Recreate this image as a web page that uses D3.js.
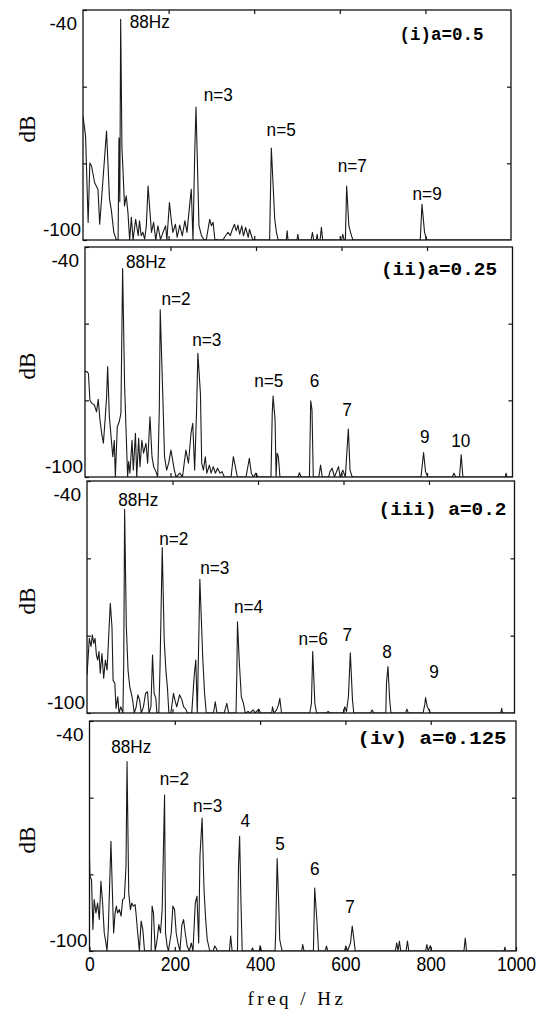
<!DOCTYPE html>
<html><head><meta charset="utf-8">
<script src="https://cdn.jsdelivr.net/npm/d3@7"></script>
<style>body{margin:0;background:#fff}svg{display:block}</style>
</head><body>
<svg id="chart" width="550" height="1019"></svg>
<script>
// ---------- data ----------
const freqDomain = [0, 1000];
const dbDomain = [-100, -40];
const xTickValues = [0, 200, 400, 600, 800, 1000];
const yTickValues = [-100, -80, -60, -40];
const yLabelledTicks = [-100, -40];
const xAxisTitle = "freq / Hz";
const yAxisTitle = "dB";
const panelTitles = ["(i)a=0.5", "(ii)a=0.25", "(iii) a=0.2", "(iv) a=0.125"];

const spectrumA = [[0,-67.7],[6,-72.9],[12,-95.4],[16,-79.9],[20,-80.7],[27,-85],[35,-86.8],[39,-95.9],[55,-71.6],[62,-89.4],[66,-92],[72,-98],[78,-100],[82,-100],[84,-73.4],[86,-90],[88,-42.4],[91,-76],[93,-80.7],[97,-91.1],[101,-88.5],[105,-92.8],[109,-100],[113,-94.1],[117,-100],[123,-94.6],[129,-98.9],[132,-95],[136,-98.9],[140,-98],[144,-99.8],[148,-96.3],[152,-85.9],[156,-92],[160,-98],[165,-95.4],[170,-100],[175,-96.3],[181,-99.8],[187,-98],[193,-96.3],[196,-100],[202,-90.2],[206,-94.6],[210,-98],[216,-95.9],[220,-99.3],[226,-96.1],[232,-98.9],[238,-95],[243,-98],[249,-91.1],[253,-86.8],[257,-100],[261,-77.3],[264,-65.3],[271,-96.3],[277,-98.9],[282,-99.8],[288,-100],[296,-94.6],[300,-96.3],[304,-95.4],[308,-99.8],[315,-100],[327,-100],[333,-98.9],[339,-98],[344,-98.9],[349,-97.2],[354,-95.9],[358,-97.6],[362,-96.1],[366,-98.5],[371,-96.3],[375,-98.9],[380,-96.7],[386,-99.3],[389,-97.2],[396,-99.8],[405,-100],[436,-100],[440,-76],[448,-94.6],[452,-98],[456,-100],[475,-100],[477,-97.6],[479,-100],[500,-100],[502,-98.5],[504,-100],[533,-100],[536,-98],[539,-100],[545,-100],[547,-98.5],[549,-100],[554,-100],[557,-96.7],[560,-100],[604,-100],[607,-98.5],[610,-100],[613,-100],[616,-85.9],[621,-96.1],[625,-98],[630,-99.8],[633,-100],[788,-100],[792,-90.7],[798,-98],[803,-99.8],[806,-100],[1000,-100]];

const spectrumB = [[0,-72.5],[4.5,-72.5],[8,-73],[11.5,-79.9],[16,-80.8],[22,-81.2],[27,-83],[31,-79.7],[35,-85.1],[39,-88.6],[43,-91.2],[47,-85.1],[50.5,-79],[53,-71.2],[57,-84.3],[61,-89.5],[65,-94.7],[68.5,-90.4],[71,-100],[75.5,-86.9],[80,-85.6],[84,-83.4],[88,-45.6],[92.7,-76.4],[96,-87.7],[99.7,-100],[102,-96],[105,-99],[110,-90.4],[113,-98.2],[118,-88.6],[121,-100],[125.5,-89.9],[128.6,-97.3],[133,-90.4],[137,-93.8],[142.6,-91.2],[146.5,-96.4],[152,-84.3],[156.7,-94.7],[160.6,-97.3],[166,-98.6],[170,-100],[173.8,-82.5],[176,-56.4],[183,-82.5],[186,-94.7],[191,-98.2],[195.7,-96.4],[201,-93],[205,-95.6],[209,-98.2],[213,-100],[222,-99],[228,-100],[236,-93],[242,-96.4],[248,-88.6],[252,-86],[256.5,-98.2],[261,-82.5],[264,-67.7],[270,-78.2],[273,-96.4],[277,-98.2],[281.5,-94.7],[285,-99],[291,-96.9],[295,-99],[300,-97.3],[305,-99],[310,-97.7],[316,-99],[320.5,-98.6],[326,-100],[341.6,-100],[347,-94.7],[351.7,-97.3],[356.4,-100],[376.7,-100],[384.5,-95.1],[389,-99],[394,-100],[400,-99],[404,-100],[435,-100],[438,-83.4],[440,-78.9],[444.6,-85.1],[447,-100],[449.3,-93.8],[452.4,-94.7],[456,-100],[498,-100],[501.6,-98.9],[505.5,-100],[525,-100],[528,-80.1],[531,-82.5],[534,-100],[547,-100],[551,-96.9],[555,-100],[570,-100],[573,-98.6],[578,-97.7],[583.5,-100],[593,-97.3],[597,-100],[603,-98.2],[609,-100],[616,-87.5],[620,-98.2],[625,-100],[786,-100],[792,-93.6],[796.5,-98.6],[802,-100],[859,-100],[863,-99],[867,-100],[876,-100],[880,-94.2],[884,-100],[983,-100],[985,-99],[987,-100],[1000,-100]];

const spectrumC = [[0,-90.2],[5.5,-80.7],[9.4,-82.8],[12.5,-79.8],[15.7,-82],[18.8,-80.7],[22,-85],[25,-86.3],[28,-84.1],[31,-89.7],[35,-84.6],[39,-91],[43,-86.3],[47,-88.9],[50.7,-80.3],[54.5,-71.6],[58.4,-77.7],[61,-91.5],[65,-92.3],[68,-98.8],[72,-95.8],[75,-100],[79,-98.4],[84,-100],[86,-86.3],[88,-47.3],[92,-77.7],[96,-88.9],[100,-93.2],[103.6,-94.9],[106.7,-96.6],[110.6,-100],[115,-98.4],[119,-95.3],[123,-96.6],[127,-100],[132,-98.4],[137,-94.9],[141.7,-94.5],[145,-100],[149.5,-98.4],[153.3,-85],[157,-94.9],[161,-96.2],[163.5,-100],[168,-100],[171,-87.2],[176,-57.2],[180.6,-81.1],[185,-89.7],[188,-93.2],[191.5,-100],[196,-100],[202.4,-94.9],[205.5,-96.6],[210,-98.4],[216.4,-95.3],[222,-96.6],[226,-98.4],[230,-98.8],[235,-100],[245,-100],[250.6,-90.6],[254.5,-86.3],[258,-100],[262,-77.7],[264,-65.4],[271,-86.3],[275,-94.9],[279,-100],[296,-100],[300,-97.1],[304,-100],[321,-100],[327,-97.5],[331.5,-100],[348.6,-100],[350.5,-89.7],[352,-76.4],[356,-86.3],[361,-95.8],[366,-97.5],[370,-100],[377,-99.6],[381,-100],[389,-99.2],[393,-100],[402,-99],[406,-100],[432,-100],[434,-98.4],[437,-100],[443.5,-99.2],[448,-97.9],[451,-96.2],[455,-100],[521,-100],[525,-97.5],[528,-84.1],[533,-97.5],[537,-100],[560,-100],[564,-99.6],[568,-100],[599,-100],[603,-98.4],[607,-99.6],[611.5,-95.8],[616,-84.4],[621,-96.6],[624,-100],[663,-100],[667,-99.2],[671,-100],[699,-100],[700.5,-92.3],[704,-88],[708,-96.6],[711,-100],[745,-100],[748.4,-99],[751.5,-100],[786,-100],[790,-97.9],[792,-96],[796,-98.4],[800,-99.2],[803,-100],[968,-100],[970,-98.8],[972,-100],[1000,-100]];

const spectrumD = [[0,-75.7],[1,-80.5],[4.8,-81.4],[8,-94.4],[11,-86.6],[15,-90.1],[19,-87.5],[23,-91.8],[26.8,-81.8],[30.7,-87.5],[34.6,-95.3],[38.6,-97.9],[41,-100],[44,-94.4],[47,-83.6],[50.3,-71.4],[53.5,-84],[56.6,-95.3],[60,-90.1],[63,-88.3],[66,-90.1],[70,-89.2],[74,-90.9],[77.8,-86.6],[81.7,-86.2],[85.6,-77.9],[88,-50.6],[92,-84.9],[96,-89.2],[99,-87.5],[103,-88.3],[107,-87.9],[109,-90.1],[113,-95.3],[117,-100],[121,-92.2],[125,-94.4],[129,-100],[144.5,-100],[146.8,-88.3],[150,-90.1],[154,-100],[158.6,-97],[162.5,-93.1],[166.5,-95.3],[170.4,-89.2],[176,-59.3],[178.2,-95.3],[182,-98.7],[185,-100],[191.6,-95.3],[195.5,-88.3],[199.4,-89.2],[203.3,-95.3],[207.3,-97.9],[212,-100],[216.7,-93.1],[220.6,-91.8],[224.5,-95.3],[229,-98.7],[234,-100],[238.6,-97.9],[242.6,-100],[248,-87.5],[252,-85.7],[256,-97.9],[259,-75.3],[264,-65.3],[268.5,-84],[272.4,-91.8],[276,-97],[282,-100],[290,-100],[293.6,-98.7],[296.7,-99.2],[300,-100],[328,-100],[331,-96.1],[334.4,-100],[347,-100],[349.3,-77.9],[352,-70.1],[355,-86.6],[358,-100],[380,-100],[382,-99.2],[385,-100],[398,-100],[400,-98.6],[403,-100],[435,-100],[436.5,-95.3],[440,-75.9],[443.4,-86.6],[446,-97],[449,-98.7],[452,-100],[497.5,-100],[500,-98.3],[503,-100],[525,-100],[528,-83.6],[533,-91.8],[537,-100],[552.5,-100],[555.6,-98.7],[558.7,-100],[598,-100],[601,-98.7],[605,-100],[612,-97.9],[616,-93.5],[620,-97],[623,-100],[717,-100],[720.4,-97.9],[723.5,-100],[726.6,-97.4],[729.8,-100],[742.3,-100],[745.5,-97.4],[748.6,-100],[788,-100],[791,-98.3],[794,-100],[799,-98.6],[802,-100],[878,-100],[881,-96.6],[884,-100],[972,-100],[974,-99],[976,-100],[1000,-100]];

// peak annotations: [text, freq, dB] (anchor in data space)
const labelsA = [["88Hz",156,-43.0],["n=3",316,-62.1],["n=5",463,-71.2],["n=7",629,-80.5],["n=9",804,-87.7]];
const labelsB = [["88Hz",143,-43.8],["n=2",213,-53.4],["n=3",285,-64.1],["n=5",430,-74.7],["6",537,-74.9],["7",613,-82.4],["9",795,-89.3],["10",879,-90.4]];
const labelsC = [["88Hz",120,-44.7],["n=2",203,-54.7],["n=3",299,-62.2],["n=4",378,-72.3],["n=6",529,-80.7],["7",609,-79.7],["8",702,-84.1],["9",812,-89.3]];
const labelsD = [["88Hz",98,-46.5],["n=2",199,-54.9],["n=3",277,-61.9],["4",365,-65.8],["5",447,-71.8],["6",528,-78.5],["7",611,-88.3]];

const spectra = [spectrumA, spectrumB, spectrumC, spectrumD];
const labels = [labelsA, labelsB, labelsC, labelsD];

// ---------- layout (pixels) ----------
const layout = [
  {x0:83,   x1:511,   y0:10,  y1:240, tr:27.5, ty:23, tl:84},
  {x0:85,   x1:512.5, y0:247, y1:477, tr:15.5, ty:21, tl:116},
  {x0:87,   x1:514.5, y0:481, y1:713, tr:8,    ty:27, tl:128},
  {x0:89.5, x1:516,   y0:721, y1:951, tr:9.5,  ty:16, tl:149}
];

const svg = d3.select("#chart");
svg.append("rect").attr("width",550).attr("height",1019).attr("fill","#fff");

layout.forEach((L, i) => {
  const x = d3.scaleLinear().domain(freqDomain).range([L.x0, L.x1]);
  const y = d3.scaleLinear().domain(dbDomain).range([L.y1, L.y0]);
  const g = svg.append("g");

  const clipId = "clip" + i;
  svg.append("clipPath").attr("id", clipId).append("rect")
    .attr("x", L.x0).attr("y", L.y0).attr("width", L.x1 - L.x0).attr("height", L.y1 - L.y0);

  const line = d3.line().x(d => x(d[0])).y(d => y(Math.max(dbDomain[0], d[1])));
  g.append("path").datum(spectra[i]).attr("d", line)
    .attr("fill", "none").attr("stroke", "#1a1a1a").attr("stroke-width", 1.1)
    .attr("stroke-linejoin", "round").attr("clip-path", `url(#${clipId})`);

  const inner = xTickValues.filter(v => v > freqDomain[0] && v < freqDomain[1]);
  const innerY = yTickValues.filter(v => v > dbDomain[0] && v < dbDomain[1]);
  const styleAxis = a => { a.select(".domain").remove(); a.selectAll("line").attr("stroke","#111").attr("stroke-width",1.2); };
  g.append("g").attr("transform", `translate(0,${L.y0})`)
    .call(d3.axisTop(x).tickValues(inner).tickSize(-4).tickFormat("")).call(styleAxis);
  g.append("g").attr("transform", `translate(${L.x1},0)`)
    .call(d3.axisRight(y).tickValues(innerY).tickSize(-4).tickFormat("")).call(styleAxis);

  const last = i === layout.length - 1;
  const bottom = g.append("g").attr("transform", `translate(0,${L.y1})`)
    .call(d3.axisBottom(x).tickValues(last ? xTickValues : inner).tickSize(-4).tickPadding(6)
      .tickFormat(last ? d3.format("d") : ""))
    .call(styleAxis);
  bottom.selectAll("text").attr("font-family", "'Liberation Sans', Arial, sans-serif")
    .attr("font-size", 20).attr("fill", "#000").attr("transform", "scale(0.88,1)");

  const left = g.append("g").attr("transform", `translate(${L.x0},0)`)
    .call(d3.axisLeft(y).tickValues(yTickValues).tickSize(-4)
      .tickFormat(d => yLabelledTicks.includes(d) ? String(d) : ""))
    .call(styleAxis);
  left.selectAll("text").attr("font-family", "'Liberation Sans', Arial, sans-serif")
    .attr("font-size", 19).attr("fill", "#000")
    .attr("x", d => d === dbDomain[1] ? -6 : -2)
    .attr("dy", d => d === dbDomain[1] ? "1.0em" : "-0.22em");

  g.append("rect").attr("x", L.x0).attr("y", L.y0).attr("width", L.x1 - L.x0).attr("height", L.y1 - L.y0)
    .attr("fill", "none").attr("stroke", "#111").attr("stroke-width", 1.3);

  g.selectAll("text.pk").data(labels[i]).join("text").attr("class","pk")
    .attr("transform", d => `translate(${x(d[1])},${y(d[2])}) scale(0.93,1)`)
    .attr("text-anchor", "middle").attr("dy", "0.36em")
    .attr("font-family", "'Liberation Sans', Arial, sans-serif").attr("font-size", 18.5)
    .attr("fill", "#000").text(d => d[0]);

  g.append("text").attr("x", L.x1 - L.tr - L.tl).attr("y", L.y0 + L.ty).attr("dy", "0.36em")
    .attr("font-family", "'Liberation Mono', 'DejaVu Sans Mono', monospace").attr("font-weight", "bold")
    .attr("font-size", 19).attr("textLength", L.tl).attr("lengthAdjust", "spacingAndGlyphs")
    .attr("fill", "#000").text(panelTitles[i]);

  g.append("text").attr("transform", `translate(27,${(L.y0 + L.y1) / 2 + 4}) rotate(-90)`)
    .attr("text-anchor", "middle").attr("dy", "0.35em")
    .attr("font-family", "'Liberation Serif', 'Times New Roman', serif").attr("font-size", 23)
    .attr("fill", "#000").text(yAxisTitle);
});

svg.append("text").attr("x", 297).attr("y", 1005).attr("text-anchor", "middle")
  .attr("font-family", "'Liberation Serif', 'Times New Roman', serif").attr("font-size", 19)
  .attr("letter-spacing", 3.5).attr("fill", "#000").text(xAxisTitle);
</script>
</body></html>
